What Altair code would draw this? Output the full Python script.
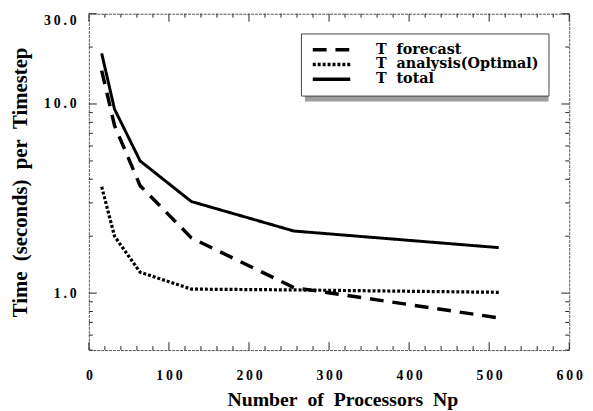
import altair as alt
import pandas as pd

# ---- data ----
procs = [16, 32, 64, 128, 256, 512]
t_forecast = [15.0, 7.7, 3.7, 1.96, 1.07, 0.74]
t_analysis = [3.65, 2.0, 1.29, 1.05, 1.04, 1.01]
t_total = [18.5, 9.4, 5.0, 3.05, 2.13, 1.74]
series_names = ["T\u00a0 forecast", "T\u00a0 analysis(Optimal)", "T\u00a0 total"]

x_major = [0, 100, 200, 300, 400, 500, 600]
x_minor = [20, 40, 60, 80, 120, 140, 160, 180, 220, 240, 260, 280,
           320, 340, 360, 380, 420, 440, 460, 480, 520, 540, 560, 580]
y_major = [1, 10, 30]
y_minor = [0.5, 0.6, 0.7, 0.8, 0.9, 2, 3, 4, 5, 6, 7, 8, 9, 20]
y_labels = [1, 10, 30]

W, H = 487, 341
FONT = "Liberation Serif"
LFONT = "DejaVu Serif"

rows = []
for name, vals in zip(series_names, [t_forecast, t_analysis, t_total]):
    for p, v in zip(procs, vals):
        rows.append({"np": p, "t": v, "series": name})
df = pd.DataFrame(rows)

xscale = alt.Scale(domain=[0, 600], nice=False, zero=False)
yscale = alt.Scale(type="log", domain=[0.5, 30], nice=False)
spaced = "join(split(datum.label, ''), '\u2009')"

lines = alt.Chart(df).mark_line(color="black", strokeCap="butt", strokeJoin="miter").encode(
    x=alt.X("np:Q", scale=xscale,
            axis=alt.Axis(values=x_major, ticks=False, domain=False, grid=False,
                          labelExpr=spaced, labelPadding=19, labelFlush=False,
                          title="Number\u2002of\u2002Processors\u2002Np",
                          titleX=257, titlePadding=7, titleFontSize=20)),
    y=alt.Y("t:Q", scale=yscale,
            axis=alt.Axis(values=y_labels, format=".1f", ticks=False, domain=False, grid=False,
                          labelExpr=spaced, labelPadding=13, labelFlush=True,
                          labelFlushOffset=0,
                          title="Time\u2002(seconds)\u2002per\u2002Timestep",
                          titlePadding=13, titleFontSize=21)),
    strokeDash=alt.StrokeDash("series:N",
                              scale=alt.Scale(domain=series_names,
                                              range=[[14, 9], [3, 2], [1, 0]]),
                              sort=series_names,
                              legend=alt.Legend(title=None, orient="none", legendX=215, legendY=20,
                                                symbolType="stroke", symbolSize=1444,
                                                symbolStrokeWidth=3.5, symbolStrokeColor="black",
                                                labelFont=LFONT, labelFontSize=14.5,
                                                labelFontWeight="bold", labelColor="black",
                                                labelLimit=400,
                                                clipHeight=13, rowPadding=0, labelOffset=24,
                                                padding=10, strokeColor="#444", fillColor="white")),
    strokeWidth=alt.StrokeWidth("series:N",
                                scale=alt.Scale(domain=series_names, range=[3.5, 3, 3.5]),
                                legend=None),
)

xmaj = pd.DataFrame({"v": x_major})
xmin = pd.DataFrame({"v": x_minor})
ymaj = pd.DataFrame({"v": y_major})
ymin = pd.DataFrame({"v": y_minor})

def xticks(d, length):
    bottom = alt.Chart(d).mark_rule(color="#222", strokeWidth=1).encode(
        x=alt.X("v:Q", scale=xscale), y=alt.value(H), y2=alt.value(H - length))
    top = alt.Chart(d).mark_rule(color="#222", strokeWidth=1).encode(
        x=alt.X("v:Q", scale=xscale), y=alt.value(0), y2=alt.value(length))
    return bottom + top

def yticks(d, length):
    left = alt.Chart(d).mark_rule(color="#222", strokeWidth=1).encode(
        y=alt.Y("v:Q", scale=yscale), x=alt.value(0), x2=alt.value(length))
    right = alt.Chart(d).mark_rule(color="#222", strokeWidth=1).encode(
        y=alt.Y("v:Q", scale=yscale), x=alt.value(W), x2=alt.value(W - length))
    return left + right

shadow = alt.Chart(pd.DataFrame({"a": [0]})).mark_rect(color="#9e9e9e").encode(
    x=alt.value(219), x2=alt.value(466), y=alt.value(24), y2=alt.value(89))

chart = alt.layer(
    shadow,
    xticks(xmaj, 8), xticks(xmin, 4), yticks(ymaj, 8), yticks(ymin, 4),
    lines,
).resolve_scale(strokeDash="independent").properties(
    width=W, height=H,
    autosize=alt.AutoSizeParams(type="none"),
    padding={"left": 82, "top": 3, "right": 16, "bottom": 62},
).configure_view(stroke="#555", strokeWidth=1, strokeDash=[3, 1]).configure_axis(
    labelFont=FONT, labelFontWeight="bold", labelFontSize=14, labelColor="black",
    titleFont=FONT, titleFontWeight="bold", titleFontSize=19, titleColor="black",
)

chart.save("out.html", embed_options={"renderer": "svg", "actions": False})
